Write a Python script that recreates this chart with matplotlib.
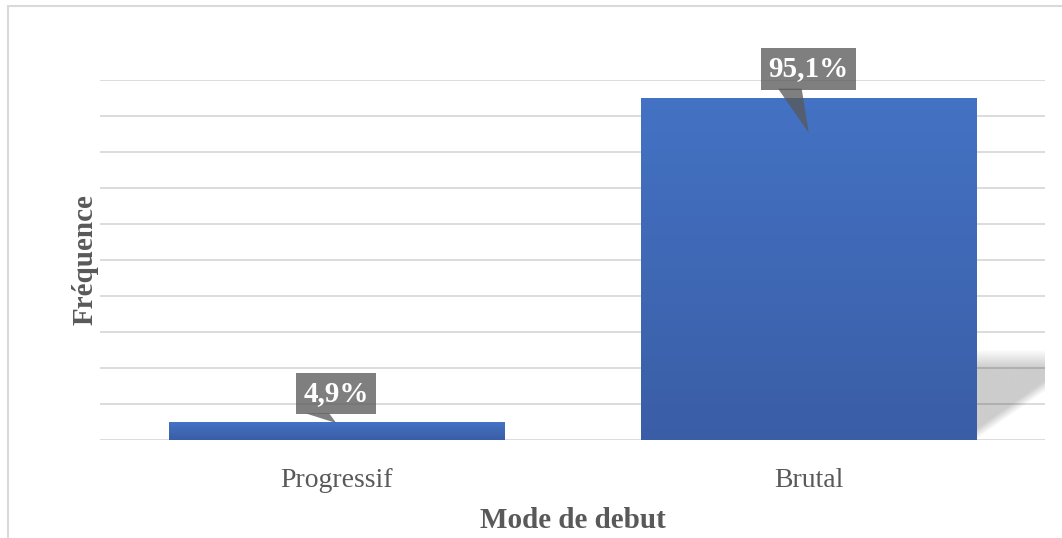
import numpy as np
import matplotlib.pyplot as plt
from matplotlib.patches import Rectangle, Polygon
from matplotlib.colors import LinearSegmentedColormap

# Mode de debut : frequence des deux modes
categories = ['Progressif', 'Brutal']
values = [4.9, 95.1]
labels = ['4,9%', '95,1%']

TEXT_COLOR = '#595959'
GRID_COLOR = '#d9d9d9'
BAR_TOP = '#4472c4'
BAR_BOTTOM = '#3a5ea6'
BAR_WIDTH = 0.71

plt.rcParams['font.family'] = ['Liberation Serif', 'DejaVu Serif']


def gradient_bar(ax, patch):
    # vertical blue gradient clipped to the bar
    x0, y0 = patch.get_x(), patch.get_y()
    w, h = patch.get_width(), patch.get_height()
    cmap = LinearSegmentedColormap.from_list('bar', [BAR_BOTTOM, BAR_TOP])
    grad = np.linspace(0, 1, 256).reshape(-1, 1)
    im = ax.imshow(grad, cmap=cmap, aspect='auto', origin='lower',
                   extent=(x0, x0 + w, y0, y0 + h), zorder=3)
    im.set_clip_path(patch)


def bar_shadow(ax, patch, xmax):
    # soft perspective shadow cast to the right of a bar
    x0 = patch.get_x() + patch.get_width()
    ytop = 25
    nx, ny = 200, 200
    u = np.linspace(0, 1, nx)[None, :]
    v = np.linspace(0, 1, ny)[:, None]
    edge = 0.55 * u
    a = np.clip((v - edge) / 0.12, 0, 1) * np.clip((1 - v) / 0.2, 0, 1)
    rgba = np.zeros((ny, nx, 4))
    rgba[..., 3] = 0.2 * a
    ax.imshow(rgba, aspect='auto', origin='lower',
              extent=(x0, xmax, 0, ytop), zorder=2.5, interpolation='bilinear')


def callout(ax, x, y, text, tip_drop):
    # grey label box with a pointer into the bar
    box_y = y + 8
    t = ax.text(x, box_y, text, ha='center', va='center', color='white',
                fontsize=21, fontweight='bold', zorder=6,
                bbox=dict(boxstyle='square,pad=0.25', fc='#595959',
                          ec='none', alpha=0.77))
    base_y = box_y - 5.5
    ptr = Polygon([(x - 0.065, base_y), (x - 0.015, base_y), (x, y - tip_drop)],
                  closed=True, fc='#595959', ec='none', alpha=0.77, zorder=5)
    ax.add_patch(ptr)
    return t


fig = plt.figure(figsize=(10.62, 5.38), dpi=100)
ax = fig.add_axes([100 / 1062, 1 - 440 / 538, 945 / 1062, 360 / 538])

xpos = np.arange(len(categories))
bars = ax.bar(xpos, values, width=BAR_WIDTH, color='none', zorder=3)
for b in bars:
    gradient_bar(ax, b)

ax.set_xlim(-0.5, 1.5)
ax.set_ylim(0, 100)
bar_shadow(ax, bars[1], 1.505)

ax.set_yticks(np.arange(0, 101, 10))
ax.yaxis.grid(True, color=GRID_COLOR, linewidth=1.3, zorder=1)
ax.set_axisbelow(True)
ax.tick_params(axis='y', left=False, labelleft=False)
ax.tick_params(axis='x', bottom=False, pad=17)
ax.set_xticks(xpos)
ax.set_xticklabels(categories, fontsize=20, color=TEXT_COLOR)
for s in ax.spines.values():
    s.set_visible(False)

ax.set_xlabel('Mode de debut', fontsize=21, fontweight='bold',
              color=TEXT_COLOR, labelpad=10)
ax.set_ylabel('Fréquence', fontsize=21, fontweight='bold',
              color=TEXT_COLOR, labelpad=1)

tip_drops = [0.2, 9.8]
for x, v, lab, d in zip(xpos, values, labels, tip_drops):
    callout(ax, x, v, lab, d)

# outer chart frame
fig.patches.append(Rectangle((8 / 1062, -0.1), 1.2, 1.1 - 6 / 538,
                             transform=fig.transFigure, fill=False,
                             ec=GRID_COLOR, lw=1.5))

fig.savefig('out.png', dpi=100)
